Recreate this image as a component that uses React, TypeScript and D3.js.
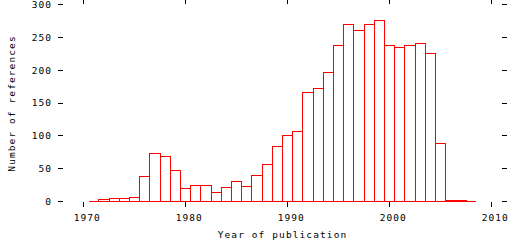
import React from "react";
import * as d3 from "d3";

const years: number[] = [
  1971, 1972, 1973, 1974, 1975, 1976, 1977, 1978, 1979, 1980,
  1981, 1982, 1983, 1984, 1985, 1986, 1987, 1988, 1989, 1990,
  1991, 1992, 1993, 1994, 1995, 1996, 1997, 1998, 1999, 2000,
  2001, 2002, 2003, 2004, 2005, 2006, 2007, 2008,
];
const counts: number[] = [
  0, 3, 5, 5, 6, 38, 73, 69, 47, 20,
  25, 25, 14, 21, 31, 23, 40, 57, 84, 100,
  107, 166, 172, 197, 238, 269, 260, 270, 275, 237,
  234, 238, 241, 225, 88, 2, 2, 0,
];
const xTicks: number[] = [1970, 1980, 1990, 2000, 2010];
const yTicks: number[] = [0, 50, 100, 150, 200, 250, 300];
const xTitle = "Year of publication";
const yTitle = "Number of references";

export default function App() {
  const W = 512;
  const H = 240;
  const x = d3.scaleLinear().domain([1970, 2010]).range([83.5, 491.5]);
  const y = d3.scaleLinear().domain([0, 300]).range([201.5, 4.5]);
  const left = x(1968) - 0.5;
  const right = x(2011) + 0.5;
  const font = "'DejaVu Sans Mono', monospace";
  const ls = 1.1;
  const fs = 9.5;
  const red = "#ff0000";

  return (
    <svg
      width={W}
      height={H}
      viewBox={`0 0 ${W} ${H}`}
      style={{ position: "absolute", left: 0, top: 0, background: "#fff" }}
    >
      <rect x={0} y={0} width={W} height={H} fill="#fff" />
      {/* bars */}
      <g shapeRendering="crispEdges">
        {years.map((yr, i) => {
          const x0 = x(yr - 0.5);
          const x1 = x(yr + 0.5);
          const yt = y(counts[i]);
          const yb = y(0);
          return (
            <path
              key={yr}
              d={`M${x0},${yb}V${yt}H${x1}V${yb}Z`}
              fill="none"
              stroke={red}
              strokeWidth={1}
            />
          );
        })}
      </g>
      {/* ticks */}
      <g stroke="#000" strokeWidth={1} shapeRendering="crispEdges">
        {yTicks.map((t) => (
          <g key={"y" + t}>
            <line x1={58} x2={left} y1={y(t)} y2={y(t)} />
            <line x1={right} x2={507} y1={y(t)} y2={y(t)} />
          </g>
        ))}
        {xTicks.map((t) => (
          <g key={"x" + t}>
            <line x1={x(t)} x2={x(t)} y1={202} y2={207} />
            <line x1={x(t)} x2={x(t)} y1={0} y2={4} />
          </g>
        ))}
      </g>
      {/* labels */}
      <g fontFamily={font} fontSize={fs} fill="#000" letterSpacing={ls}>
        {yTicks.map((t) => (
          <text
            key={"yl" + t}
            x={51 + ls}
            y={y(t)}
            dy="0.36em"
            textAnchor="end"
          >
            {d3.format("d")(t)}
          </text>
        ))}
        {xTicks.map((t) => (
          <text key={"xl" + t} x={x(t) + 3.8} y={221} textAnchor="middle">
            {t}
          </text>
        ))}
        <text x={282.5} y={238} textAnchor="middle">
          {xTitle}
        </text>
        <text
          transform={`translate(15,${(y(0) + y(300)) / 2 + 0.5}) rotate(-90)`}
          textAnchor="middle"
        >
          {yTitle}
        </text>
      </g>
    </svg>
  );
}
